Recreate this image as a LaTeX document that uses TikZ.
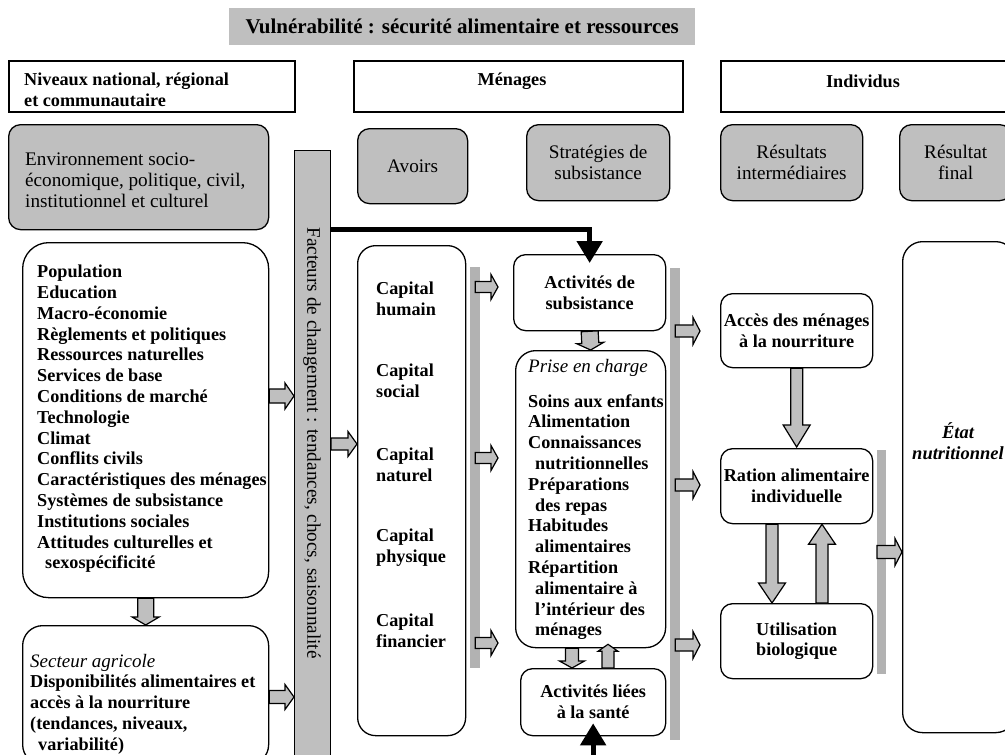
\documentclass[tikz,border=0pt]{standalone}
\usepackage{fontspec}
\setmainfont{Liberation Serif}
\usetikzlibrary{calc,arrows.meta}
\newcommand{\fbold}{\bfseries\fontsize{18.2}{20.8}\selectfont}
\newcommand{\fnorm}{\mdseries\fontsize{19.2}{20.8}\selectfont}
\newcommand{\fnormit}{\mdseries\itshape\fontsize{19}{20.8}\selectfont}
\newcommand{\fboldit}{\bfseries\itshape\fontsize{18.5}{21}\selectfont}
\newcommand{\ftitle}{\bfseries\fontsize{21}{24}\selectfont}
\newcommand{\placebox}[6]{\node[#1, anchor=north west, minimum width={(#5-#3)*1pt}, minimum height={(#6-#4)*1pt}] (#2) at (#3,#4)}
\newcommand{\blockarrow}[5]{%
  \coordinate (baS) at #1;
  \coordinate (baE) at #2;
  \coordinate (baH) at ($(baE)!#5!(baS)$);
  \draw[blk] ($(baS)!#3!90:(baE)$) -- ($(baH)!#3!-90:(baS)$) -- ($(baH)!#4!-90:(baS)$) -- (baE) -- ($(baH)!#4!90:(baS)$) -- ($(baH)!#3!90:(baS)$) -- ($(baS)!#3!-90:(baE)$) -- cycle;
}
\tikzset{
  hdr/.style={draw, line width=1.6pt, inner sep=0pt},
  wbox/.style={draw, line width=1.3pt, rounded corners=12pt, inner sep=0pt, align=center, font=\fbold},
  gbox/.style={wbox, fill=gray!50, font=\fnorm},
  thinbar/.style={fill=black!30, inner sep=0pt},
  facbar/.style={fill=gray!50, draw, line width=1pt, inner sep=0pt},
  blk/.style={draw, line width=1.2pt, fill=gray!50, line join=miter},
  big/.style={line width=5pt, -{Triangle[width=25pt,length=22pt]}},
  lbl/.style={inner sep=0pt, align=left, anchor=west},
}
\begin{document}
\begin{tikzpicture}[x=1pt,y=-1pt]
\useasboundingbox (0,0) rectangle (1005,755);
\fill[white] (0,0) rectangle (1005,755);
\clip (0,0) rectangle (1005,755);

% title
\node[fill=gray!50, inner sep=0pt, anchor=north west, minimum width=466pt, minimum height=37pt, font=\ftitle] (title) at (229,8) {Vulnérabilité : sécurité alimentaire et ressources};

% headers
\placebox{hdr}{hNiv}{8}{60}{294}{111}{};
\node[lbl, font=\fbold] (hNivT) at (24,90) {Niveaux national, régional\\et communautaire};
\placebox{hdr}{hMen}{353}{60}{682}{111}{};
\node[font=\fbold, inner sep=0pt] (hMenT) at (512,81) {Ménages};
\placebox{hdr}{hInd}{720}{60}{1012}{111}{};
\node[font=\fbold, inner sep=0pt] (hIndT) at (863,81) {Individus};

% grey rounded labels
\placebox{gbox}{gEnv}{8}{124}{268}{229}{};
\node[lbl, font=\fnorm] (gEnvT) at (25,180) {Environnement socio-\\économique, politique, civil,\\institutionnel et culturel};
\placebox{gbox}{gAvo}{357}{128}{467}{203}{Avoirs};
\placebox{gbox}{gStr}{526}{124}{669}{200}{Stratégies de\\subsistance};
\placebox{gbox}{gRes}{720}{124}{862}{200}{Résultats\\intermédiaires};
\placebox{gbox}{gFin}{899}{124}{1011}{200}{Résultat\\final};

% factors bar
\placebox{facbar}{fac}{294}{150}{330}{765}{};
\node[rotate=-90, font=\fnorm, inner sep=0pt] (facT) at (312,443) {Facteurs de changement : tendances, chocs, saisonnalité};

% left column
\placebox{wbox, rounded corners=26pt}{list}{22}{242}{268}{597}{};
\node[lbl, font=\fbold] (listT) at (37,419) {Population\\Education\\Macro-économie\\Règlements et politiques\\Ressources naturelles\\Services de base\\Conditions de marché\\Technologie\\Climat\\Conflits civils\\Caractéristiques des ménages\\Systèmes de subsistance\\Institutions sociales\\Attitudes culturelles et\\\hspace*{8pt}sexospécificité};
\placebox{wbox, rounded corners=20pt}{sect}{22}{625}{268}{764}{};
\node[lbl, font=\fbold] (sectT) at (30,704) {{\fnormit Secteur agricole}\\Disponibilités alimentaires et\\accès à la nourriture\\(tendances, niveaux,\\\hspace*{8pt}variabilité)};

% capitals
\placebox{wbox, rounded corners=18pt}{cap}{357}{245}{465}{735}{};
\node[lbl, font=\fbold] (c1) at (376,298.5) {Capital\\humain};
\node[lbl, font=\fbold] (c2) at (376,381) {Capital\\social};
\node[lbl, font=\fbold] (c3) at (376,464.5) {Capital\\naturel};
\node[lbl, font=\fbold] (c4) at (376,548) {Capital\\physique};
\node[lbl, font=\fbold] (c5) at (376,631) {Capital\\financier};
\placebox{thinbar}{bar1}{470}{267}{480}{668}{};

% strategies
\placebox{wbox}{actS}{513}{254}{665}{330}{Activités de\\subsistance};
\placebox{wbox, rounded corners=20pt}{prise}{515}{350}{665}{647}{};
\node[lbl, font=\fnormit] (priseH) at (528,368) {Prise en charge};
\node[lbl, font=\fbold] (priseT) at (528,517) {Soins aux enfants\\Alimentation\\Connaissances\\\hspace*{7pt}nutritionnelles\\Préparations\\\hspace*{7pt}des repas\\Habitudes\\\hspace*{7pt}alimentaires\\Répartition\\\hspace*{7pt}alimentaire à\\\hspace*{7pt}l'intérieur des\\\hspace*{7pt}ménages};
\placebox{wbox}{actL}{520}{668}{665}{735}{Activités liées\\à la santé};
\placebox{thinbar}{bar2}{670}{268}{680}{740}{};

% individuals
\placebox{wbox}{acc}{720}{293}{872}{367}{Accès des ménages\\à la nourriture};
\placebox{wbox}{rat}{720}{448}{872}{523}{Ration alimentaire\\individuelle};
\placebox{wbox}{uti}{720}{603}{872}{678}{Utilisation\\biologique};
\placebox{thinbar}{bar3}{877}{450}{886}{674}{};
\placebox{wbox, rounded corners=20pt}{etat}{902}{241}{1015}{732}{};
\node[font=\fboldit, align=center, inner sep=0pt] (etatT) at (958,441) {État\\nutritionnel};

% block arrows
\blockarrow{(list.east |- 0,396)}{(fac.west |- 0,396)}{7pt}{13pt}{9pt}
\blockarrow{(sect.east |- 0,697)}{(fac.west |- 0,697)}{6.5pt}{12.5pt}{9pt}
\blockarrow{(list.south)}{(sect.north)}{8pt}{13.5pt}{8pt}
\blockarrow{(fac.east |- 0,444)}{(cap.west |- 0,444)}{6pt}{12.5pt}{9pt}
\blockarrow{(bar1.center |- 0,287)}{($(actS.west |- 0,287)+(-15,0)$)}{5.5pt}{12.5pt}{7pt}
\blockarrow{(bar1.center |- 0,458)}{($(prise.west |- 0,458)+(-17,0)$)}{5.5pt}{12.5pt}{7pt}
\blockarrow{(bar1.center |- 0,643)}{($(prise.west |- 0,643)+(-17,0)$)}{5.5pt}{12.5pt}{7pt}
\blockarrow{(actS.south)}{(prise.north)}{8.5pt}{13.5pt}{7pt}
\blockarrow{(prise.south -| 572,0)}{(actL.north -| 572,0)}{6.5pt}{12.5pt}{7pt}
\blockarrow{(actL.north -| 608,0)}{($(prise.south -| 608,0)+(0,-4)$)}{6pt}{10pt}{7pt}
\blockarrow{(bar2.center |- 0,331)}{($(acc.west |- 0,331)+(-20,0)$)}{6pt}{13.5pt}{7pt}
\blockarrow{(bar2.center |- 0,485)}{($(rat.west |- 0,485)+(-20,0)$)}{6pt}{13.5pt}{7pt}
\blockarrow{(bar2.center |- 0,645)}{($(uti.west |- 0,645)+(-20,0)$)}{6pt}{13.5pt}{7pt}
\blockarrow{(acc.south)}{($(rat.north)+(0,-1)$)}{6pt}{13.5pt}{22pt}
\blockarrow{(rat.south -| 772,0)}{(uti.north -| 772,0)}{6pt}{13.5pt}{20pt}
\blockarrow{(uti.north -| 822,0)}{(rat.south -| 822,0)}{6pt}{13.5pt}{20pt}
\blockarrow{(bar3.west |- 0,552)}{(etat.west |- 0,552)}{6.5pt}{13.5pt}{7pt}

% thick black arrows
\draw[big, shorten >=-9pt] (fac.east |- 0,229) -| (actS.north);
\draw[big, shorten >=-13pt] (actL.south |- 0,760) -- (actL.south);
\end{tikzpicture}
\end{document}
